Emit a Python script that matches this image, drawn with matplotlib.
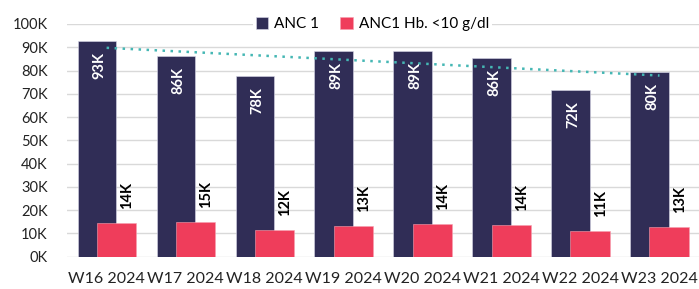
import numpy as np
import matplotlib.pyplot as plt

plt.rcParams['font.family'] = ['Lato', 'DejaVu Sans']

weeks = ["W16 2024", "W17 2024", "W18 2024", "W19 2024",
         "W20 2024", "W21 2024", "W22 2024", "W23 2024"]
anc1 = [92700, 86400, 77700, 88500, 88600, 85300, 71700, 79500]
anc1_hb = [14400, 15000, 11600, 13200, 13900, 13500, 11200, 12700]
anc1_lbl = ["93K", "86K", "78K", "89K", "89K", "86K", "72K", "80K"]
hb_lbl = ["14K", "15K", "12K", "13K", "14K", "14K", "11K", "13K"]

DARK = "#302d56"
RED = "#ef3d5b"
TEAL = "#45b7b4"

fig = plt.figure(figsize=(6.99, 2.89), dpi=100)
ax = fig.add_axes([0.096, 0.112, 0.904, 0.805])

x = np.arange(len(weeks))
off = 0.123
ax.bar(x - off, anc1, width=0.49, color=DARK, edgecolor="#d8d8e8",
       linewidth=0.4, label="ANC 1", zorder=2)
ax.bar(x + off, anc1_hb, width=0.50, color=RED, edgecolor="#f7a0b0",
       linewidth=0.4, label="ANC1 Hb. <10 g/dl", zorder=3)

# linear trendline on ANC 1
k, c = np.polyfit(x, anc1, 1)
ax.plot(x, k * x + c, color=TEAL, linestyle=(0, (1, 2.2)), linewidth=1.8, zorder=4)

for i in range(len(weeks)):
    ax.annotate(anc1_lbl[i], (x[i] - off, anc1[i]), xytext=(2, -8),
                textcoords="offset points", rotation=90, ha="center", va="top",
                color="white", fontsize=10.5, fontweight="bold", zorder=5)
    ax.annotate(hb_lbl[i], (x[i] + off, anc1_hb[i]), xytext=(8, 10),
                textcoords="offset points", rotation=90, ha="center", va="bottom",
                color="black", fontsize=10.5, fontweight="bold", zorder=5)

ax.set_ylim(0, 100000)
ax.set_xlim(-0.5, len(weeks) - 0.5)
ax.set_yticks(np.arange(0, 100001, 10000))
ax.set_yticklabels([f"{v // 1000}K" for v in range(0, 100001, 10000)])
ax.set_xticks(x)
ax.set_xticklabels(weeks, fontsize=11.5)
ax.tick_params(axis="both", length=0, colors="#222222")
ax.tick_params(axis="y", labelsize=10.5, pad=14)
ax.tick_params(axis="x", pad=11)
ax.grid(axis="y", color="#d9d9d9", linewidth=1, zorder=0)
ax.set_axisbelow(True)
for s in ax.spines.values():
    s.set_visible(False)

leg = ax.legend(loc="center", bbox_to_anchor=(0.483, 1.0), ncol=2, frameon=True,
                facecolor="white", edgecolor="none", framealpha=1,
                handlelength=0.8, handleheight=0.8, handletextpad=0.4,
                columnspacing=1.4, fontsize=11, borderpad=0.2)
leg.set_zorder(6)

fig.savefig("out.png", dpi=100)
